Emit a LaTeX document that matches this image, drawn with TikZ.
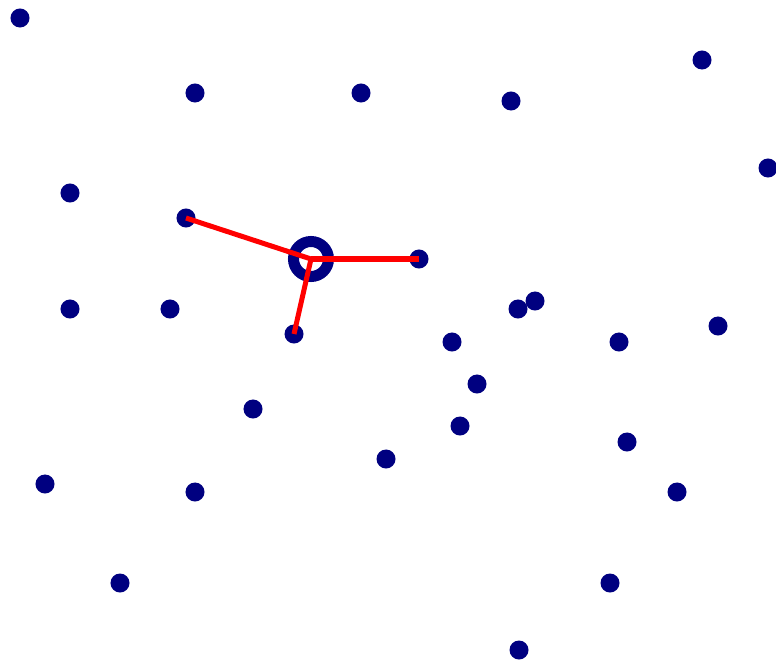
\documentclass[tikz,border=0pt]{standalone}
\definecolor{navy}{RGB}{0,0,128}
\tikzset{
  dot/.style={circle, fill=navy, inner sep=0pt, minimum size=0.19cm},
  ring/.style={circle, draw=navy, line width=0.11cm, inner sep=0pt, minimum size=0.35cm},
  link/.style={red, line width=0.05cm}
}
\begin{document}
\begin{tikzpicture}[x=0.01cm,y=-0.01cm]
\useasboundingbox (0,0) rectangle (776,664);
% scattered points
\foreach \px/\py [count=\i] in {20/18, 195/93, 361/93, 511/101, 702/60, 768/168,
  70/193, 186/218, 419/259, 70/309, 170/309, 294/334, 518/309, 535/301,
  452/342, 619/342, 718/326, 477/384, 253/409, 460/426, 386/459, 627/442,
  45/484, 195/492, 677/492, 120/583, 610/583, 519/650}
  \node[dot] (p\i) at (\px,\py) {};
% the chosen point and its neighbours
\node[ring] (c) at (311,259) {};
\draw [link] (c.center) -- (p8.center);
\draw [link] (c.center) -- (p9.center);
\draw [link] (c.center) -- (p12.center);
\end{tikzpicture}
\end{document}
